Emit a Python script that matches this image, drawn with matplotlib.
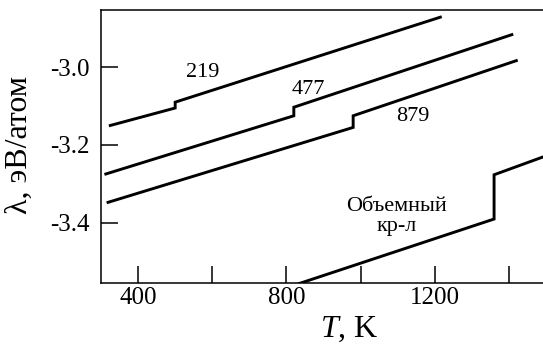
import matplotlib
matplotlib.use('Agg')
import matplotlib.pyplot as plt

plt.rcParams['font.family'] = ['Liberation Serif', 'DejaVu Serif']
plt.rcParams['mathtext.fontset'] = 'custom'
plt.rcParams['mathtext.rm'] = 'Liberation Serif'
plt.rcParams['mathtext.it'] = 'Liberation Serif:italic'
plt.rcParams['axes.unicode_minus'] = False

# curves (T, K ; lambda, eV/atom), step = repeated T
t_219 = [325, 500, 500, 1215]
l_219 = [-3.150, -3.105, -3.090, -2.871]
t_477 = [313, 820, 820, 1408]
l_477 = [-3.275, -3.125, -3.103, -2.916]
t_879 = [319, 980, 980, 1420]
l_879 = [-3.348, -3.155, -3.125, -2.983]
t_bulk = [835, 1360, 1360, 1495]
l_bulk = [-3.557, -3.391, -3.277, -3.230]

curves = [(t_219, l_219), (t_477, l_477), (t_879, l_879), (t_bulk, l_bulk)]
labels = ['219', '477', '879', 'Объемный\nкр-л']
label_pos = [(573, -3.013), (860, -3.058), (1142, -3.127), (1097, -3.385)]

x_major = [400, 800, 1200]
x_minor = [600, 1000, 1400]
y_ticks = [-3.4, -3.2, -3.0]

fig = plt.figure(figsize=(5.43, 3.45), dpi=100)
ax = fig.add_axes([0.186, 0.1806, 0.8195, 0.791])

for t, l in curves:
    ax.plot(t, l, color='black', lw=2.1, solid_joinstyle='miter')

for txt, (x, y) in zip(labels, label_pos):
    ax.text(x, y, txt, fontsize=16, ha='center', va='center', linespacing=1.1)

ax.set_xlim(300, 1500)
ax.set_ylim(-3.555, -2.852)
ax.set_xticks(x_major)
ax.set_xticks(x_minor, minor=True)
ax.set_yticks(y_ticks)
ax.set_yticklabels(['{:.1f}'.format(v) for v in y_ticks])
ax.tick_params(which='both', direction='in', length=12, width=1.1,
               top=False, right=False, labelsize=18)
ax.tick_params(axis='x', pad=3)
ax.tick_params(axis='y', pad=8)
for s in ax.spines.values():
    s.set_linewidth(1.1)

ax.set_xlabel(r'$T$, K', fontsize=23)
ax.xaxis.set_label_coords(0.557, -0.118)
ax.set_ylabel('λ, эВ/атом', fontsize=23)
ax.yaxis.set_label_coords(-0.15, 0.506)

fig.savefig('out.png', dpi=100)
